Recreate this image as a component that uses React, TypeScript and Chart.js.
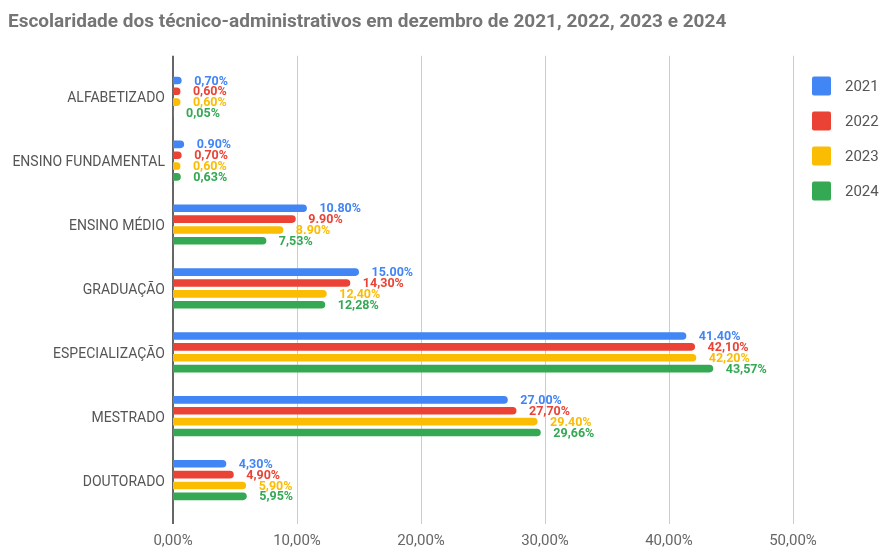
import React, { useEffect, useRef } from "react";
import { Chart, registerables } from "chart.js";

Chart.register(...registerables);

const TITLE = "Escolaridade dos técnico-administrativos em dezembro de 2021, 2022, 2023 e 2024";
const categories = ["ALFABETIZADO", "ENSINO FUNDAMENTAL", "ENSINO MÉDIO", "GRADUAÇÃO", "ESPECIALIZAÇÃO", "MESTRADO", "DOUTORADO"];
const seriesNames = ["2021", "2022", "2023", "2024"];
const seriesColors = ["#4285F4", "#EA4335", "#FBBC04", "#34A853"];
const values2021 = [0.7, 0.9, 10.8, 15.0, 41.4, 27.0, 4.3];
const values2022 = [0.6, 0.7, 9.9, 14.3, 42.1, 27.7, 4.9];
const values2023 = [0.6, 0.6, 8.9, 12.4, 42.2, 29.4, 5.9];
const values2024 = [0.05, 0.63, 7.53, 12.28, 43.57, 29.66, 5.95];
const labels2021 = ["0,70%", "0.90%", "10.80%", "15.00%", "41.40%", "27.00%", "4,30%"];
const labels2022 = ["0,60%", "0,70%", "9.90%", "14,30%", "42,10%", "27,70%", "4,90%"];
const labels2023 = ["0,60%", "0,60%", "8.90%", "12,40%", "42,20%", "29.40%", "5,90%"];
const labels2024 = ["0,05%", "0,63%", "7,53%", "12,28%", "43,57%", "29,66%", "5,95%"];
const xMin = 0;
const xMax = 50;
const xStep = 10;

const allValues = [values2021, values2022, values2023, values2024];
const allLabels = [labels2021, labels2022, labels2023, labels2024];

const FONT = "Roboto, 'Noto Sans', sans-serif";

const gridPlugin = {
  id: "customGrid",
  beforeDatasetsDraw(chart: any) {
    const { ctx, chartArea, scales } = chart;
    const x = scales.x;
    const top = chartArea.top - 9;
    const bottom = chartArea.bottom + 12;
    ctx.save();
    for (let v = xMin + xStep; v <= xMax; v += xStep) {
      const px = Math.round(x.getPixelForValue(v)) + 0.5;
      ctx.strokeStyle = "#cccccc";
      ctx.lineWidth = 1;
      ctx.beginPath();
      ctx.moveTo(px, top);
      ctx.lineTo(px, bottom);
      ctx.stroke();
    }
    const px0 = x.getPixelForValue(xMin);
    ctx.strokeStyle = "#333333";
    ctx.lineWidth = 1.5;
    ctx.beginPath();
    ctx.moveTo(px0, top);
    ctx.lineTo(px0, bottom);
    ctx.stroke();
    ctx.restore();
  },
};

const labelPlugin = {
  id: "barLabels",
  afterDatasetsDraw(chart: any) {
    const { ctx } = chart;
    ctx.save();
    ctx.font = `bold 12.5px ${FONT}`;
    ctx.textAlign = "left";
    ctx.textBaseline = "middle";
    chart.data.datasets.forEach((ds: any, di: number) => {
      const meta = chart.getDatasetMeta(di);
      ctx.fillStyle = ds.backgroundColor;
      meta.data.forEach((bar: any, i: number) => {
        ctx.fillText(allLabels[di][i], bar.x + 12.5, bar.y + 1);
      });
    });
    ctx.restore();
  },
};

const legendPlugin = {
  id: "sideLegend",
  afterDraw(chart: any) {
    const { ctx } = chart;
    ctx.save();
    ctx.font = `15px ${FONT}`;
    ctx.textAlign = "left";
    ctx.textBaseline = "middle";
    chart.data.datasets.forEach((ds: any, i: number) => {
      const cy = 86 + i * 35;
      ctx.fillStyle = ds.backgroundColor;
      ctx.beginPath();
      (ctx as any).roundRect(812, cy - 9.5, 19, 19, 2);
      ctx.fill();
      ctx.fillStyle = "#555555";
      ctx.fillText(ds.label, 845, cy + 1);
    });
    ctx.restore();
  },
};

export default function App() {
  const canvasRef = useRef<HTMLCanvasElement | null>(null);

  useEffect(() => {
    document.body.style.margin = "0";
    const canvas = canvasRef.current;
    if (!canvas) return;
    const chart = new Chart(canvas, {
      type: "bar",
      data: {
        labels: categories,
        datasets: seriesNames.map((name, i) => ({
          label: name,
          data: allValues[i],
          backgroundColor: seriesColors[i],
          borderRadius: 4,
          categoryPercentage: 0.68,
          barPercentage: 0.7,
        })),
      },
      options: {
        indexAxis: "y",
        animation: false,
        responsive: false,
        maintainAspectRatio: false,
        layout: { padding: { left: 8, right: 87, top: 0, bottom: 0 } },
        plugins: {
          legend: { display: false },
          tooltip: { enabled: false },
          title: {
            display: true,
            text: TITLE,
            align: "start",
            color: "#757575",
            font: { family: FONT, size: 19, weight: "bold" },
            padding: { top: 11, bottom: 31 },
          },
        },
        scales: {
          x: {
            type: "linear",
            min: xMin,
            max: xMax,
            grid: { display: false, drawTicks: false },
            border: { display: false },
            ticks: {
              stepSize: xStep,
              padding: 20,
              color: "#666666",
              font: { family: FONT, size: 15 },
              callback: (v: any) => Number(v).toFixed(2).replace(".", ",") + "%",
            },
            afterFit: (scale: any) => {
              scale.height = 35;
            },
          },
          y: {
            type: "category",
            grid: { display: false, drawTicks: false },
            border: { display: false },
            ticks: {
              padding: 8,
              labelOffset: 2,
              color: "#555555",
              font: { family: FONT, size: 14 },
            },
            afterFit: (scale: any) => {
              scale.width = 165;
            },
          },
        },
      },
      plugins: [gridPlugin, labelPlugin, legendPlugin],
    });
    return () => chart.destroy();
  }, []);

  return (
    <div style={{ width: 880, height: 547 }}>
      <canvas ref={canvasRef} width={880} height={547} style={{ width: 880, height: 547, display: "block" }} />
    </div>
  );
}
